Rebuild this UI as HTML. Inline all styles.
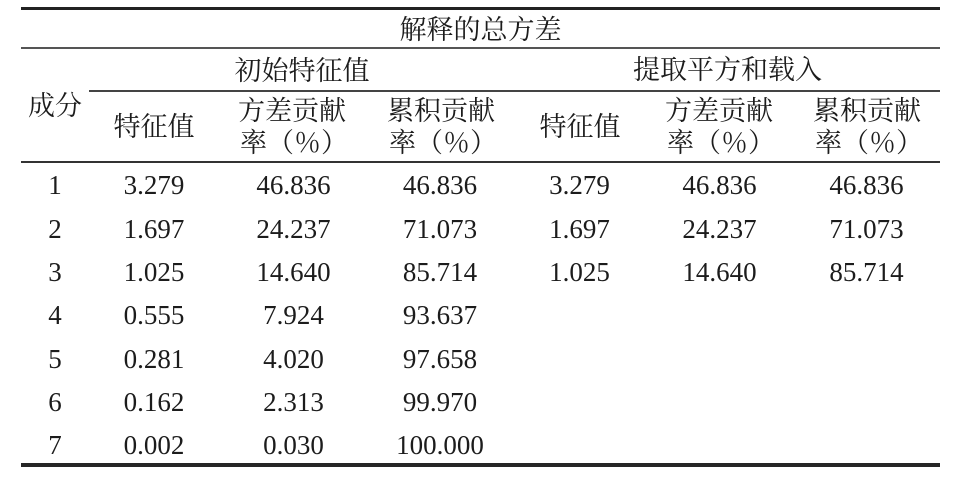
<!DOCTYPE html>
<html><head><meta charset="utf-8"><style>
html,body{margin:0;padding:0;background:#fff;}
body{width:961px;height:478px;position:relative;overflow:hidden;}
.t{position:absolute;font-family:"Liberation Serif","Noto Serif CJK SC",serif;font-size:27px;line-height:27px;color:#1c1c1c;white-space:nowrap;}
.c{text-align:center;}
.l{position:absolute;background:#2a2a2a;}
</style></head><body>
<div class="l" style="left:21px;top:7px;width:919px;height:3px;background:#222;"></div>
<div class="l" style="left:21px;top:47px;width:919px;height:2px;background:#555;"></div>
<div class="l" style="left:89px;top:90px;width:851px;height:1.5px;background:#444;"></div>
<div class="l" style="left:21px;top:161px;width:919px;height:1.5px;background:#333;"></div>
<div class="l" style="left:21px;top:463px;width:919px;height:3.5px;background:#262626;"></div>

<div class="t c" style="left:21px;width:919px;top:17px;">解释的总方差</div>
<div class="t c" style="left:89px;width:426px;top:57.5px;">初始特征值</div>
<div class="t c" style="left:515px;width:425px;top:57px;">提取平方和载入</div>
<div class="t c" style="left:5px;width:100px;top:92.7px;">成分</div>
<div class="t c" style="left:104px;width:100px;top:114.4px;">特征值</div>
<div class="t c" style="left:530px;width:100px;top:114.4px;">特征值</div>

<div class="t" style="left:238px;top:98px;">方差贡献</div>
<div class="t" style="left:240px;top:130.4px;">率（％）</div>
<div class="t" style="left:387px;top:98px;">累积贡献</div>
<div class="t" style="left:389px;top:130.4px;">率（％）</div>
<div class="t" style="left:665px;top:98px;">方差贡献</div>
<div class="t" style="left:667px;top:130.4px;">率（％）</div>
<div class="t" style="left:813px;top:98px;">累积贡献</div>
<div class="t" style="left:815px;top:130.4px;">率（％）</div>

<!-- row 1 -->
<div class="t c" style="left:15px;width:80px;top:172.4px;">1</div>
<div class="t c" style="left:94px;width:120px;top:172.4px;">3.279</div>
<div class="t c" style="left:233.5px;width:120px;top:172.4px;">46.836</div>
<div class="t c" style="left:380px;width:120px;top:172.4px;">46.836</div>
<div class="t c" style="left:519.5px;width:120px;top:172.4px;">3.279</div>
<div class="t c" style="left:659.5px;width:120px;top:172.4px;">46.836</div>
<div class="t c" style="left:806.5px;width:120px;top:172.4px;">46.836</div>
<!-- row 2 -->
<div class="t c" style="left:15px;width:80px;top:215.7px;">2</div>
<div class="t c" style="left:94px;width:120px;top:215.7px;">1.697</div>
<div class="t c" style="left:233.5px;width:120px;top:215.7px;">24.237</div>
<div class="t c" style="left:380px;width:120px;top:215.7px;">71.073</div>
<div class="t c" style="left:519.5px;width:120px;top:215.7px;">1.697</div>
<div class="t c" style="left:659.5px;width:120px;top:215.7px;">24.237</div>
<div class="t c" style="left:806.5px;width:120px;top:215.7px;">71.073</div>
<!-- row 3 -->
<div class="t c" style="left:15px;width:80px;top:259px;">3</div>
<div class="t c" style="left:94px;width:120px;top:259px;">1.025</div>
<div class="t c" style="left:233.5px;width:120px;top:259px;">14.640</div>
<div class="t c" style="left:380px;width:120px;top:259px;">85.714</div>
<div class="t c" style="left:519.5px;width:120px;top:259px;">1.025</div>
<div class="t c" style="left:659.5px;width:120px;top:259px;">14.640</div>
<div class="t c" style="left:806.5px;width:120px;top:259px;">85.714</div>
<!-- row 4 -->
<div class="t c" style="left:15px;width:80px;top:302.4px;">4</div>
<div class="t c" style="left:94px;width:120px;top:302.4px;">0.555</div>
<div class="t c" style="left:233.5px;width:120px;top:302.4px;">7.924</div>
<div class="t c" style="left:380px;width:120px;top:302.4px;">93.637</div>
<!-- row 5 -->
<div class="t c" style="left:15px;width:80px;top:345.7px;">5</div>
<div class="t c" style="left:94px;width:120px;top:345.7px;">0.281</div>
<div class="t c" style="left:233.5px;width:120px;top:345.7px;">4.020</div>
<div class="t c" style="left:380px;width:120px;top:345.7px;">97.658</div>
<!-- row 6 -->
<div class="t c" style="left:15px;width:80px;top:389px;">6</div>
<div class="t c" style="left:94px;width:120px;top:389px;">0.162</div>
<div class="t c" style="left:233.5px;width:120px;top:389px;">2.313</div>
<div class="t c" style="left:380px;width:120px;top:389px;">99.970</div>
<!-- row 7 -->
<div class="t c" style="left:15px;width:80px;top:432.3px;">7</div>
<div class="t c" style="left:94px;width:120px;top:432.3px;">0.002</div>
<div class="t c" style="left:233.5px;width:120px;top:432.3px;">0.030</div>
<div class="t c" style="left:380px;width:120px;top:432.3px;">100.000</div>
</body></html>
